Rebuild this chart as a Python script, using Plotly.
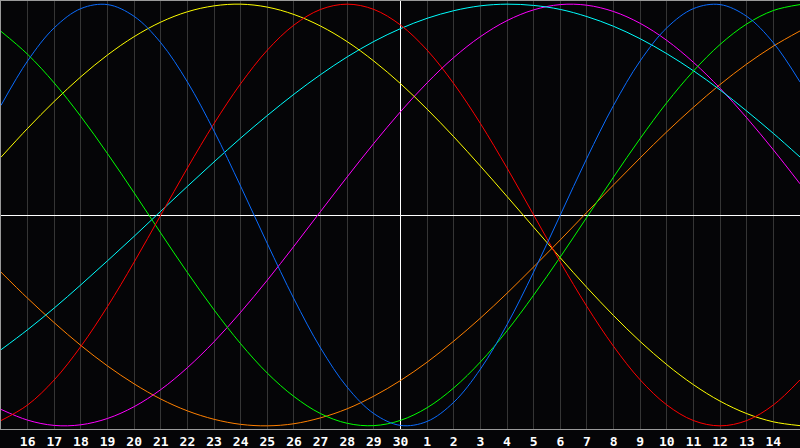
import plotly.graph_objects as go

# day slots across the window (0 = the 15th of the previous month)
days = list(range(31))
day_labels = [str(d) for d in range(16, 31)] + [str(d) for d in range(1, 15)]
label_pos = list(range(1, 30))
today = 15

# curve values, -1 .. 1, one per day
physical = [0.52, 0.731, 0.888, 0.979, 0.998, 0.942, 0.817, 0.631, 0.398, 0.136,
            -0.136, -0.398, -0.631, -0.817, -0.942, -0.998, -0.979, -0.888, -0.731, -0.52,
            -0.27, 0.0, 0.27, 0.52, 0.731, 0.888, 0.979, 0.998, 0.942, 0.817, 0.631]
emotional = [-0.975, -0.901, -0.782, -0.623, -0.434, -0.223, 0.0, 0.223, 0.434, 0.623,
             0.782, 0.901, 0.975, 1.0, 0.975, 0.901, 0.782, 0.623, 0.434, 0.223,
             0.0, -0.223, -0.434, -0.623, -0.782, -0.901, -0.975, -1.0, -0.975, -0.901, -0.782]
intellectual = [0.871, 0.762, 0.626, 0.467, 0.291, 0.105, -0.086, -0.273, -0.45, -0.611,
                -0.75, -0.861, -0.942, -0.988, -0.999, -0.974, -0.914, -0.82, -0.697, -0.549,
                -0.38, -0.199, -0.01, 0.18, 0.363, 0.533, 0.683, 0.809, 0.906, 0.97, 0.998]
aesthetic = [0.274, 0.411, 0.539, 0.656, 0.759, 0.846, 0.915, 0.964, 0.992, 1.0,
             0.986, 0.951, 0.896, 0.822, 0.73, 0.623, 0.502, 0.371, 0.232, 0.088,
             -0.058, -0.203, -0.344, -0.477, -0.6, -0.71, -0.805, -0.883, -0.942, -0.981, -0.999]
spiritual = [-0.639, -0.544, -0.441, -0.331, -0.217, -0.101, 0.018, 0.136, 0.252, 0.365,
             0.472, 0.573, 0.666, 0.75, 0.823, 0.884, 0.933, 0.969, 0.992, 1.0,
             0.994, 0.975, 0.941, 0.895, 0.836, 0.765, 0.684, 0.593, 0.493, 0.387, 0.275]
intuitive = [-0.922, -0.973, -0.998, -0.995, -0.965, -0.909, -0.828, -0.724, -0.601, -0.461,
             -0.309, -0.148, 0.017, 0.181, 0.34, 0.49, 0.627, 0.747, 0.846, 0.922,
             0.973, 0.998, 0.995, 0.965, 0.909, 0.828, 0.724, 0.601, 0.461, 0.309, 0.148]
awareness = [-0.271, -0.395, -0.511, -0.619, -0.716, -0.801, -0.873, -0.929, -0.969, -0.993,
             -1.0, -0.99, -0.962, -0.919, -0.859, -0.785, -0.698, -0.598, -0.489, -0.371,
             -0.246, -0.118, 0.013, 0.143, 0.271, 0.395, 0.511, 0.619, 0.716, 0.801, 0.873]

series = [
    ('awareness', awareness, '#ff8000'),
    ('intuitive', intuitive, '#ff00ff'),
    ('spiritual', spiritual, '#00ffff'),
    ('aesthetic', aesthetic, '#ffff00'),
    ('intellectual', intellectual, '#00ff00'),
    ('emotional', emotional, '#ff0000'),
    ('physical', physical, '#0a6cff'),
]

yr = [-1.015, 1.015]

fig = go.Figure()
# today marker, under the curves
fig.add_trace(go.Scatter(x=[today, today], y=yr, mode='lines',
                         line=dict(color='white', width=1), hoverinfo='skip'))
for name, vals, color in series:
    fig.add_trace(go.Scatter(x=days, y=vals, name=name, mode='lines',
                             line=dict(color=color, width=1, shape='spline'),
                             hoverinfo='skip'))

fig.update_layout(
    width=800, height=448,
    margin=dict(l=1, r=0, t=1, b=19),
    paper_bgcolor='#050507', plot_bgcolor='#050507',
    showlegend=False,
    xaxis=dict(range=[0, 30], tickvals=label_pos, ticktext=day_labels,
               showgrid=True, gridcolor='#353535', gridwidth=1,
               showline=True, linecolor='#9a9a9a', linewidth=1, mirror=True,
               ticks='', zeroline=False,
               tickfont=dict(family='DejaVu Sans Mono', size=13, color='white', weight='bold')),
    yaxis=dict(range=yr, showticklabels=False, showgrid=False,
               zeroline=True, zerolinecolor='white', zerolinewidth=1,
               showline=True, linecolor='#9a9a9a', linewidth=1, mirror=True, ticks=''),
)

# drop the browser's default page margin so the chart sits at the window corner
fig.write_html("out.html", config={'displayModeBar': False},
               post_script="document.body.style.margin='0';"
                           "document.body.style.background='#050507';")
